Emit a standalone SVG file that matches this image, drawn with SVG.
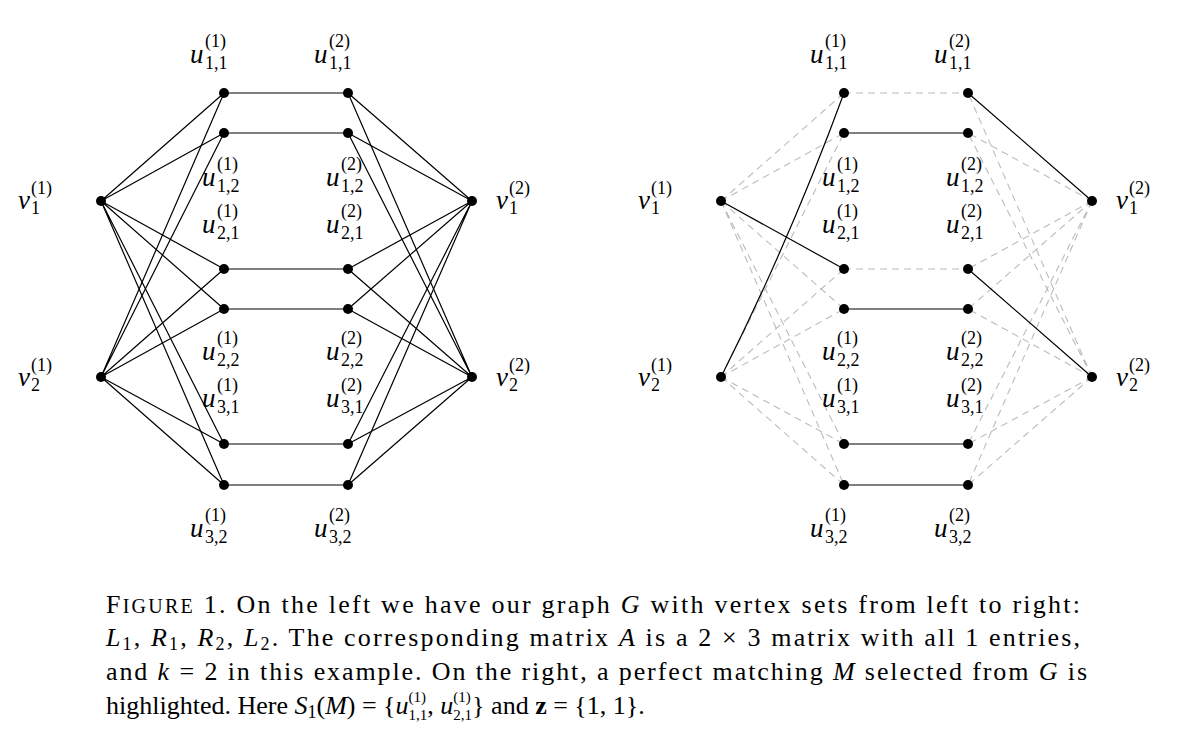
<svg xmlns="http://www.w3.org/2000/svg" width="1200" height="746" viewBox="0 0 1200 746">
<style>
.e{stroke:#000;stroke-width:1.2;fill:none}
.d{stroke:#bbb;stroke-width:1.1;stroke-dasharray:7 5;fill:none}
.it{font-family:"Liberation Serif",serif;font-style:italic;font-size:27px}
.sc{font-family:"Liberation Serif",serif;font-size:18px}
.cap{font-family:"Liberation Serif",serif;font-size:26px}
</style>
<defs><circle id="n" r="5" fill="#000"/></defs>
<g id="connectors">
<g id="left-edges" class="e">
<path d="M101 201L224 93M101 201L224 133M101 201L224 269M101 201L224 309M101 201L224 444M101 201L224 485"/>
<path d="M101 377L224 93M101 377L224 133M101 377L224 269M101 377L224 309M101 377L224 444M101 377L224 485"/>
<path d="M472 201L348 93M472 201L348 133M472 201L348 269M472 201L348 309M472 201L348 444M472 201L348 485"/>
<path d="M472 377L348 93M472 377L348 133M472 377L348 269M472 377L348 309M472 377L348 444M472 377L348 485"/>
<path d="M224 93H348M224 133H348M224 269H348M224 309H348M224 444H348M224 485H348"/>
</g>
<g id="right-dashed" class="d">
<path d="M721 201L844 93M721 201L844 133M721 201L844 309M721 201L844 444M721 201L844 485"/>
<path d="M721 377L844 133M721 377L844 269M721 377L844 309M721 377L844 444M721 377L844 485"/>
<path d="M1092 201L968 133M1092 201L968 269M1092 201L968 309M1092 201L968 444M1092 201L968 485"/>
<path d="M1092 377L968 93M1092 377L968 133M1092 377L968 309M1092 377L968 444M1092 377L968 485"/>
<path d="M844 93H968M844 269H968"/>
</g>
<g id="right-solid" class="e">
<path d="M721 201L844 269M721 377Q790 240 844 93M968 93L1092 201M968 269L1092 377"/>
<path d="M844 133H968M844 309H968M844 444H968M844 485H968"/>
</g>
</g>
<g id="nodes">
<g id="left-nodes">
<use href="#n" x="101" y="201"/><use href="#n" x="101" y="377"/><use href="#n" x="472" y="201"/><use href="#n" x="472" y="377"/>
<use href="#n" x="224" y="93"/><use href="#n" x="224" y="133"/><use href="#n" x="224" y="269"/><use href="#n" x="224" y="309"/><use href="#n" x="224" y="444"/><use href="#n" x="224" y="485"/>
<use href="#n" x="348" y="93"/><use href="#n" x="348" y="133"/><use href="#n" x="348" y="269"/><use href="#n" x="348" y="309"/><use href="#n" x="348" y="444"/><use href="#n" x="348" y="485"/>
</g>
<g id="right-nodes">
<use href="#n" x="721" y="201"/><use href="#n" x="721" y="377"/><use href="#n" x="1092" y="201"/><use href="#n" x="1092" y="377"/>
<use href="#n" x="844" y="93"/><use href="#n" x="844" y="133"/><use href="#n" x="844" y="269"/><use href="#n" x="844" y="309"/><use href="#n" x="844" y="444"/><use href="#n" x="844" y="485"/>
<use href="#n" x="968" y="93"/><use href="#n" x="968" y="133"/><use href="#n" x="968" y="269"/><use href="#n" x="968" y="309"/><use href="#n" x="968" y="444"/><use href="#n" x="968" y="485"/>
</g>
</g>
<g id="labels-left">
<text class="it" x="18" y="209">v</text><text class="sc" x="31" y="194">(1)</text><text class="sc" x="31" y="214">1</text>
<text class="it" x="18" y="386">v</text><text class="sc" x="31" y="371">(1)</text><text class="sc" x="31" y="391">2</text>
<text class="it" x="496" y="209">v</text><text class="sc" x="509" y="194">(2)</text><text class="sc" x="509" y="214">1</text>
<text class="it" x="496" y="386">v</text><text class="sc" x="509" y="371">(2)</text><text class="sc" x="509" y="391">2</text>
<text class="it" x="190" y="63">u</text><text class="sc" x="205" y="47">(1)</text><text class="sc" x="205" y="69">1,1</text>
<text class="it" x="314" y="63">u</text><text class="sc" x="329" y="47">(2)</text><text class="sc" x="329" y="69">1,1</text>
<text class="it" x="202" y="186">u</text><text class="sc" x="217" y="170">(1)</text><text class="sc" x="217" y="192">1,2</text>
<text class="it" x="326" y="186">u</text><text class="sc" x="341" y="170">(2)</text><text class="sc" x="341" y="192">1,2</text>
<text class="it" x="202" y="233">u</text><text class="sc" x="217" y="217">(1)</text><text class="sc" x="217" y="239">2,1</text>
<text class="it" x="326" y="233">u</text><text class="sc" x="341" y="217">(2)</text><text class="sc" x="341" y="239">2,1</text>
<text class="it" x="202" y="360">u</text><text class="sc" x="217" y="344">(1)</text><text class="sc" x="217" y="366">2,2</text>
<text class="it" x="326" y="360">u</text><text class="sc" x="341" y="344">(2)</text><text class="sc" x="341" y="366">2,2</text>
<text class="it" x="202" y="407">u</text><text class="sc" x="217" y="391">(1)</text><text class="sc" x="217" y="413">3,1</text>
<text class="it" x="326" y="407">u</text><text class="sc" x="341" y="391">(2)</text><text class="sc" x="341" y="413">3,1</text>
<text class="it" x="190" y="537">u</text><text class="sc" x="205" y="521">(1)</text><text class="sc" x="205" y="543">3,2</text>
<text class="it" x="314" y="537">u</text><text class="sc" x="329" y="521">(2)</text><text class="sc" x="329" y="543">3,2</text>
</g>
<g id="labels-right" transform="translate(620 0)">
<text class="it" x="18" y="209">v</text><text class="sc" x="31" y="194">(1)</text><text class="sc" x="31" y="214">1</text>
<text class="it" x="18" y="386">v</text><text class="sc" x="31" y="371">(1)</text><text class="sc" x="31" y="391">2</text>
<text class="it" x="496" y="209">v</text><text class="sc" x="509" y="194">(2)</text><text class="sc" x="509" y="214">1</text>
<text class="it" x="496" y="386">v</text><text class="sc" x="509" y="371">(2)</text><text class="sc" x="509" y="391">2</text>
<text class="it" x="190" y="63">u</text><text class="sc" x="205" y="47">(1)</text><text class="sc" x="205" y="69">1,1</text>
<text class="it" x="314" y="63">u</text><text class="sc" x="329" y="47">(2)</text><text class="sc" x="329" y="69">1,1</text>
<text class="it" x="202" y="186">u</text><text class="sc" x="217" y="170">(1)</text><text class="sc" x="217" y="192">1,2</text>
<text class="it" x="326" y="186">u</text><text class="sc" x="341" y="170">(2)</text><text class="sc" x="341" y="192">1,2</text>
<text class="it" x="202" y="233">u</text><text class="sc" x="217" y="217">(1)</text><text class="sc" x="217" y="239">2,1</text>
<text class="it" x="326" y="233">u</text><text class="sc" x="341" y="217">(2)</text><text class="sc" x="341" y="239">2,1</text>
<text class="it" x="202" y="360">u</text><text class="sc" x="217" y="344">(1)</text><text class="sc" x="217" y="366">2,2</text>
<text class="it" x="326" y="360">u</text><text class="sc" x="341" y="344">(2)</text><text class="sc" x="341" y="366">2,2</text>
<text class="it" x="202" y="407">u</text><text class="sc" x="217" y="391">(1)</text><text class="sc" x="217" y="413">3,1</text>
<text class="it" x="326" y="407">u</text><text class="sc" x="341" y="391">(2)</text><text class="sc" x="341" y="413">3,1</text>
<text class="it" x="190" y="537">u</text><text class="sc" x="205" y="521">(1)</text><text class="sc" x="205" y="543">3,2</text>
<text class="it" x="314" y="537">u</text><text class="sc" x="329" y="521">(2)</text><text class="sc" x="329" y="543">3,2</text>
</g>
<g id="caption" class="cap">
<text x="106" y="613" textLength="974" lengthAdjust="spacing">F<tspan font-size="20">IGURE</tspan> 1. On the left we have our graph <tspan font-style="italic">G</tspan> with vertex sets from left to right:</text>
<text x="106" y="646" textLength="974" lengthAdjust="spacing"><tspan font-style="italic">L</tspan><tspan font-size="18" dy="4">1</tspan><tspan dy="-4">, </tspan><tspan font-style="italic">R</tspan><tspan font-size="18" dy="4">1</tspan><tspan dy="-4">, </tspan><tspan font-style="italic">R</tspan><tspan font-size="18" dy="4">2</tspan><tspan dy="-4">, </tspan><tspan font-style="italic">L</tspan><tspan font-size="18" dy="4">2</tspan><tspan dy="-4">.  The corresponding matrix </tspan><tspan font-style="italic">A</tspan> is a 2 × 3 matrix with all 1 entries,</text>
<text x="106" y="680" textLength="981" lengthAdjust="spacing">and <tspan font-style="italic">k</tspan> = 2 in this example. On the right, a perfect matching <tspan font-style="italic">M</tspan> selected from <tspan font-style="italic">G</tspan> is</text>
<text x="106" y="714">highlighted. Here <tspan font-style="italic">S</tspan><tspan font-size="18" dy="4">1</tspan><tspan dy="-4">(</tspan><tspan font-style="italic">M</tspan>) = {<tspan font-style="italic">u</tspan><tspan font-size="15" dy="-12">(1)</tspan><tspan font-size="15" dx="-17.5" dy="18">1,1</tspan><tspan dy="-6">, </tspan><tspan font-style="italic">u</tspan><tspan font-size="15" dy="-12">(1)</tspan><tspan font-size="15" dx="-17.5" dy="18">2,1</tspan><tspan dy="-6">} and </tspan><tspan font-weight="bold">z</tspan> = {1, 1}.</text>
</g>
</svg>
